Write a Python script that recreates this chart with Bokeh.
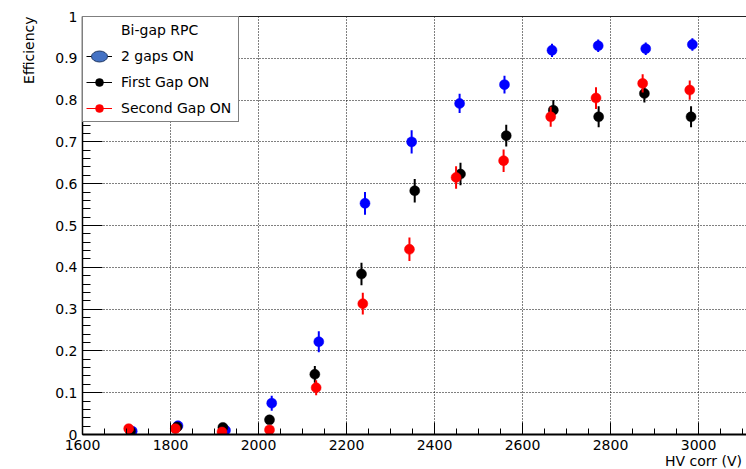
import numpy as np
from bokeh.plotting import figure
from bokeh.models import (ColumnDataSource, LinearAxis, SingleIntervalTicker,
                          FixedTicker, Legend, LegendItem, CustomJSTickFormatter, Title)
from bokeh.embed import file_html
from bokeh.resources import INLINE

# ---------------- data ----------------
hv_both = [1713, 1817, 1925, 2030, 2137, 2242, 2348, 2457, 2559, 2667, 2772, 2880, 2986]
eff_both = [0.008, 0.021, 0.010, 0.075, 0.222, 0.553, 0.700, 0.792, 0.837, 0.919, 0.930, 0.923, 0.933]
err_both = [0.005, 0.008, 0.005, 0.018, 0.025, 0.027, 0.028, 0.023, 0.021, 0.016, 0.015, 0.015, 0.015]

hv_first = [1709, 1815, 1919, 2025, 2128, 2234, 2355, 2459, 2563, 2670, 2773, 2877, 2983]
eff_first = [0.008, 0.018, 0.017, 0.035, 0.144, 0.384, 0.583, 0.623, 0.715, 0.776, 0.760, 0.816, 0.760]
err_first = [0.005, 0.007, 0.007, 0.010, 0.020, 0.027, 0.028, 0.027, 0.026, 0.024, 0.025, 0.022, 0.025]

hv_second = [1705, 1811, 1917, 2025, 2131, 2237, 2343, 2449, 2557, 2664, 2767, 2873, 2980]
eff_second = [0.014, 0.014, 0.006, 0.011, 0.112, 0.313, 0.443, 0.615, 0.655, 0.760, 0.805, 0.840, 0.824]
err_second = [0.006, 0.006, 0.004, 0.006, 0.018, 0.026, 0.028, 0.027, 0.027, 0.024, 0.026, 0.022, 0.023]

series_labels = ["2 gaps ON", "First Gap ON", "Second Gap ON"]
legend_header = "Bi-gap RPC"
x_title = "HV  corr (V)"
y_title = "Efficiency"

X_START, X_END = 1600, 3109
Y_START, Y_END = 0, 1

FONT = "DejaVu Sans"

p = figure(width=746, height=469, output_backend="svg", toolbar_location=None,
           x_range=(X_START, X_END), y_range=(Y_START, Y_END),
           min_border_left=82, min_border_right=0, min_border_top=16, min_border_bottom=35)
p.outline_line_color = None
p.background_fill_color = "white"
p.border_fill_color = "white"

# axes
xt = SingleIntervalTicker(interval=200, num_minor_ticks=4)
yt = SingleIntervalTicker(interval=0.1, num_minor_ticks=5)
p.xaxis[0].ticker = xt
p.yaxis[0].ticker = yt
p.xgrid[0].ticker = xt
p.ygrid[0].ticker = yt
p.yaxis[0].formatter = CustomJSTickFormatter(code="return (Math.round(tick*10)/10).toString();")

for ax in (p.xaxis[0], p.yaxis[0]):
    ax.major_label_text_font = FONT
    ax.major_label_text_font_size = "14px"
    ax.major_label_text_color = "black"
    ax.axis_line_color = "black"
    ax.major_tick_line_color = "black"
    ax.minor_tick_line_color = "black"
    ax.major_tick_out = 0
    ax.minor_tick_out = 0
    ax.major_label_standoff = 5

p.xaxis[0].major_tick_in = 12
p.xaxis[0].minor_tick_in = 6
p.xaxis[0].axis_line_width = 2
p.yaxis[0].major_tick_in = 20
p.yaxis[0].minor_tick_in = 8
p.yaxis[0].axis_line_width = 1.5

top = LinearAxis(ticker=FixedTicker(ticks=[]), major_label_text_font_size="0px",
                 axis_line_color="#222222", axis_line_width=1,
                 major_tick_in=0, major_tick_out=0, minor_tick_in=0, minor_tick_out=0,
                 major_label_standoff=0)
p.add_layout(top, "above")

# axis titles at the axis ends (ROOT style)
p.add_layout(Title(text=x_title, align="right", vertical_align="bottom", standoff=-3,
                   text_font=FONT, text_font_size="14px", text_font_style="normal",
                   text_color="black"), "below")
p.add_layout(Title(text=y_title, align="right", vertical_align="top", standoff=28,
                   text_font=FONT, text_font_size="14px", text_font_style="normal",
                   text_color="black"), "left")

for g in (p.xgrid[0], p.ygrid[0]):
    g.grid_line_color = "black"
    g.grid_line_dash = "1 2"
    g.grid_line_width = 1


def add_series(xs, ys, errs, color):
    y = np.array(ys, dtype=float)
    e = np.array(errs, dtype=float)
    src = ColumnDataSource(dict(x=xs, y=ys, lo=list(y - e), hi=list(y + e)))
    p.segment(x0="x", y0="lo", x1="x", y1="hi", source=src, line_color=color, line_width=2)
    return p.scatter(x="x", y="y", source=src, size=10, marker="circle",
                     fill_color=color, line_color=color, line_width=0.5)


r_both = add_series(hv_both, eff_both, err_both, "#0000ff")
r_first = add_series(hv_first, eff_first, err_first, "black")
r_second = add_series(hv_second, eff_second, err_second, "#ff0000")

# legend-only glyphs (NaN positions, not drawn in the plot)
empty = ColumnDataSource(dict(x=[np.nan], y=[np.nan], w=[19], h=[13]))
r_head = p.line(x="x", y="y", source=empty, line_alpha=0)
r_line_k = p.line(x="x", y="y", source=empty, line_color="black", line_width=1)
r_line_r = p.line(x="x", y="y", source=empty, line_color="#ff0000", line_width=1)
r_ell = p.ellipse(x="x", y="y", width="w", height="h", width_units="screen",
                  height_units="screen", source=empty,
                  fill_color="#4472c4", line_color="#1f3864", line_width=1)

legend = Legend(items=[
    LegendItem(label=legend_header, renderers=[r_head]),
    LegendItem(label=series_labels[0], renderers=[r_line_k, r_ell]),
    LegendItem(label=series_labels[1], renderers=[r_line_k, r_first]),
    LegendItem(label=series_labels[2], renderers=[r_line_r, r_second]),
], location="top_left", margin=0, padding=3, spacing=6,
    glyph_width=26, glyph_height=20, label_height=20, label_width=114,
    label_standoff=9, label_text_font=FONT, label_text_font_size="14px",
    label_text_color="black", border_line_color="black", border_line_width=1,
    background_fill_color="white", background_fill_alpha=1.0)
p.add_layout(legend)

open("out.html", "w").write(file_html(p, INLINE))
